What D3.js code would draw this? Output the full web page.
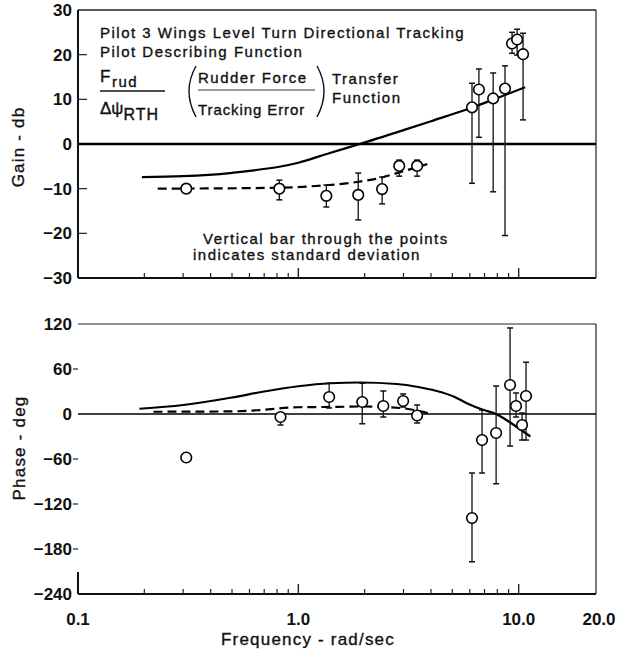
<!DOCTYPE html>
<html>
<head>
<meta charset="utf-8">
<script src="https://cdn.jsdelivr.net/npm/d3@7"></script>
<style>
  body { margin: 0; background: #fff; }
  svg { font-family: "Liberation Sans", Arial, Helvetica, sans-serif; }
  .tick-label { font-size: 17px; font-weight: bold; fill: #111; }
  .note { font-size: 15px; letter-spacing: 1.5px; fill: #111; stroke: #111; stroke-width: 0.35px; }
  .title { font-size: 17px; letter-spacing: 1.2px; fill: #111; stroke: #111; stroke-width: 0.35px; }
</style>
</head>
<body>
<div id="chart"></div>
<script>
// gain panel, measured points (rad/sec, db)
var gainFreq = [0.31, 0.82, 1.34, 1.87, 2.40, 2.87, 3.46, 6.14, 6.6, 7.66, 8.67, 9.33, 9.84, 10.47];
var gainVal  = [-10, -10, -11.6, -11.4, -10.1, -4.9, -4.9, 8.2, 12.2, 10.2, 12.4, 22.5, 23.4, 20.1];
var gainHi   = [-10, -8.1, -9.2, -6.5, -7.4, -3.6, -3.6, 13.6, 16.8, 15.9, 17.5, 25, 25.7, 24.8];
var gainLo   = [-10, -12.5, -14.1, -17.0, -13.4, -7.2, -7.2, -8.8, 1.5, -10.7, -20.5, 20.3, 19.9, 5.4];

// gain panel, model (solid) and fit (dashed)
var gainModelFreq = [0.195, 0.3, 0.49, 0.6, 0.82, 1.0, 1.39, 1.9, 3, 4, 6.1, 8, 10.7];
var gainModelVal  = [-7.4, -7.2, -6.5, -6.0, -5.1, -4.2, -2.0, 0, 3.1, 5.1, 8.1, 10.3, 12.7];
var gainFitFreq = [0.23, 0.8, 1.2, 1.85, 2.35, 2.9, 3.46, 3.85];
var gainFitVal  = [-10, -9.8, -9.4, -8.5, -7.6, -6.3, -5.2, -4.5];

// phase panel, measured points (rad/sec, deg)
var phaseFreq = [0.31, 0.83, 1.38, 1.95, 2.43, 2.99, 3.46, 6.14, 6.82, 7.9, 9.14, 9.73, 10.36, 10.8];
var phaseVal  = [-58, -4, 22.7, 16, 10.7, 17.3, -2, -138.7, -34.7, -25.3, 38.7, 10.7, -14.7, 24];
var phaseHi   = [-53, 1.3, 41, 41, 30.7, 26.7, 12, -78.7, 5.3, 37.3, 114.7, 28, 1.3, 69];
var phaseLo   = [-63, -14.7, 8, -13, -4, 9.3, -12, -197, -78.7, -93, -42.7, -4, -34.7, -34.7];

var phaseModelFreq = [0.19, 0.3, 0.5, 0.7, 1.0, 1.4, 1.9, 2.8, 3.5, 4.2, 5.1, 5.85, 7, 7.9, 9, 10, 11.3];
var phaseModelVal  = [7, 12, 22, 30, 37, 41, 42, 40, 36, 31, 23, 14, 5, 0, -10, -19, -30];
var phaseFitFreq = [0.22, 0.5, 0.65, 1.0, 1.5, 1.95, 2.9, 3.9];
var phaseFitVal  = [3, 3.5, 5, 9, 9.5, 10, 8, 1];

var xTickValues = [0.1, 1, 10, 20];
var xTickLabels = ["0.1", "1.0", "10.0", "20.0"];
var xMinorTicks = [0.2, 0.3, 0.4, 0.5, 0.6, 0.7, 0.8, 0.9, 2, 3, 4, 5, 6, 7, 8, 9];
var gainTicks = [30, 20, 10, 0, -10, -20, -30];
var phaseTicks = [120, 60, 0, -60, -120, -180, -240];

var width = 620, height = 652,
    left = 78, right = 596;

var x = d3.scaleLog().domain([0.1, 20]).range([left, 585]);
var yGain = d3.scaleLinear().domain([-30, 30]).range([278, 10]);
var yPhase = d3.scaleLinear().domain([-240, 120]).range([594, 324]);

var svg = d3.select("#chart").append("svg")
    .attr("width", width)
    .attr("height", height);

function zip(f, v) {
  return f.map(function(d, i) { return {f: d, v: v[i]}; });
}

function panel(y, ticks, opts) {
  var g = svg.append("g");
  var top = y.range()[1], bottom = y.range()[0];

  // frame
  g.append("line").attr("x1", left).attr("x2", right).attr("y1", top).attr("y2", top)
    .attr("stroke", "#222").attr("stroke-width", opts.topWidth);
  g.append("line").attr("x1", left).attr("x2", right).attr("y1", bottom).attr("y2", bottom)
    .attr("stroke", "#111").attr("stroke-width", 2);
  g.append("line").attr("x1", right).attr("x2", right).attr("y1", top).attr("y2", bottom)
    .attr("stroke", "#222").attr("stroke-width", 1.2);
  g.append("line").attr("x1", left).attr("x2", left)
    .attr("y1", opts.leftFull ? top : bottom - 22).attr("y2", bottom)
    .attr("stroke", "#111").attr("stroke-width", 2);

  // zero line
  g.append("line").attr("x1", left).attr("x2", right)
    .attr("y1", y(0)).attr("y2", y(0))
    .attr("stroke", "#000").attr("stroke-width", opts.zeroWidth);

  // y ticks and labels
  g.selectAll(".ytick").data(ticks.filter(function(d) { return d !== 0 && d !== y.domain()[0] && d !== y.domain()[1]; }))
    .enter().append("line")
      .attr("x1", left + opts.yTickIn).attr("x2", left - opts.yTickOut)
      .attr("y1", function(d) { return y(d); }).attr("y2", function(d) { return y(d); })
      .attr("stroke", "#222").attr("stroke-width", 1.2);
  g.selectAll(".ylab").data(ticks).enter().append("text")
    .attr("class", "tick-label")
    .attr("x", 72)
    .attr("y", function(d) { return y(d); })
    .attr("dy", "0.36em")
    .attr("text-anchor", "end")
    .text(function(d) { return d < 0 ? "\u2212" + Math.abs(d) : d; });

  // x ticks, pointing up from the bottom frame
  g.selectAll(".xminor").data(xMinorTicks).enter().append("line")
    .attr("x1", function(d) { return x(d); }).attr("x2", function(d) { return x(d); })
    .attr("y1", bottom).attr("y2", bottom - 5)
    .attr("stroke", "#222").attr("stroke-width", 1.2);
  g.selectAll(".xmajor").data([1, 10]).enter().append("line")
    .attr("x1", function(d) { return x(d); }).attr("x2", function(d) { return x(d); })
    .attr("y1", bottom).attr("y2", bottom - 10)
    .attr("stroke", "#222").attr("stroke-width", 1.4);

  var line = d3.line()
    .curve(d3.curveMonotoneX)
    .x(function(d) { return x(d.f); })
    .y(function(d) { return y(d.v); });

  g.append("path").datum(opts.model)
    .attr("d", line).attr("fill", "none")
    .attr("stroke", "#000").attr("stroke-width", 2.2);
  g.append("path").datum(opts.fit)
    .attr("d", line).attr("fill", "none")
    .attr("stroke", "#000").attr("stroke-width", 2.2)
    .attr("stroke-dasharray", "9,5");

  // error bars
  var pts = opts.freq.map(function(f, i) {
    return {f: f, v: opts.val[i], hi: opts.hi[i], lo: opts.lo[i]};
  });
  var bars = g.selectAll(".bar").data(pts.filter(function(d) { return d.hi !== d.lo; }))
    .enter().append("g");
  bars.append("line")
    .attr("x1", function(d) { return x(d.f); }).attr("x2", function(d) { return x(d.f); })
    .attr("y1", function(d) { return y(d.hi); }).attr("y2", function(d) { return y(d.lo); })
    .attr("stroke", "#111").attr("stroke-width", 1.3);
  ["hi", "lo"].forEach(function(k) {
    bars.append("line")
      .attr("x1", function(d) { return x(d.f) - 3; }).attr("x2", function(d) { return x(d.f) + 3; })
      .attr("y1", function(d) { return y(d[k]); }).attr("y2", function(d) { return y(d[k]); })
      .attr("stroke", "#111").attr("stroke-width", 1.5);
  });

  g.selectAll(".pt").data(pts).enter().append("circle")
    .attr("cx", function(d) { return x(d.f); })
    .attr("cy", function(d) { return y(d.v); })
    .attr("r", 5.3)
    .attr("fill", "#fff").attr("stroke", "#000").attr("stroke-width", 1.6);

  return g;
}

panel(yGain, gainTicks, {
  topWidth: 1.5, zeroWidth: 2.6, leftFull: true, yTickIn: 9, yTickOut: 0,
  model: zip(gainModelFreq, gainModelVal), fit: zip(gainFitFreq, gainFitVal),
  freq: gainFreq, val: gainVal, hi: gainHi, lo: gainLo
});

panel(yPhase, phaseTicks, {
  topWidth: 1, zeroWidth: 1.6, leftFull: false, yTickIn: 0, yTickOut: 5,
  model: zip(phaseModelFreq, phaseModelVal), fit: zip(phaseFitFreq, phaseFitVal),
  freq: phaseFreq, val: phaseVal, hi: phaseHi, lo: phaseLo
});

// x tick labels, under the phase panel
svg.selectAll(".xlab").data(xTickValues).enter().append("text")
  .attr("class", "tick-label")
  .attr("x", function(d, i) { return i === 3 ? 599 : x(d); })
  .attr("y", 625)
  .attr("text-anchor", "middle")
  .text(function(d, i) { return xTickLabels[i]; });

// axis titles
svg.append("text").attr("class", "title")
  .attr("transform", "translate(24,147) rotate(-90)")
  .attr("text-anchor", "middle")
  .text("Gain - db");
svg.append("text").attr("class", "title")
  .attr("transform", "translate(25,448) rotate(-90)")
  .attr("text-anchor", "middle")
  .text("Phase - deg");
svg.append("text").attr("class", "title")
  .attr("x", 308).attr("y", 645)
  .attr("text-anchor", "middle")
  .text("Frequency - rad/sec");

// annotation block
var ann = svg.append("g");
ann.append("text").attr("class", "note").attr("x", 100).attr("y", 38)
  .text("Pilot 3 Wings Level Turn Directional Tracking");
ann.append("text").attr("class", "note").attr("x", 100).attr("y", 57)
  .text("Pilot Describing Function");

var num = ann.append("text").attr("class", "note").attr("x", 100).attr("y", 82).style("font-size", "17px");
num.append("tspan").text("F");
num.append("tspan").attr("dy", 5).style("font-size", "15px").text("rud");
ann.append("line").attr("x1", 100).attr("x2", 165).attr("y1", 91).attr("y2", 91)
  .attr("stroke", "#111").attr("stroke-width", 1.4);
var den = ann.append("text").attr("class", "note").attr("x", 100).attr("y", 114).style("font-size", "17px");
den.append("tspan").style("letter-spacing", "0px").text("\u0394\u03c8");
den.append("tspan").attr("dy", 6).style("font-size", "16px").style("letter-spacing", "1px").text("RTH");

// big parentheses around the verbal fraction
ann.append("path")
  .attr("d", "M196,66 Q182,91 196,117")
  .attr("fill", "none").attr("stroke", "#111").attr("stroke-width", 1.4);
ann.append("path")
  .attr("d", "M317,66 Q331,91 317,117")
  .attr("fill", "none").attr("stroke", "#111").attr("stroke-width", 1.4);
ann.append("text").attr("class", "note").attr("x", 198).attr("y", 83).text("Rudder Force");
ann.append("line").attr("x1", 198).attr("x2", 315).attr("y1", 90).attr("y2", 90)
  .attr("stroke", "#333").attr("stroke-width", 1);
ann.append("text").attr("class", "note").attr("x", 198).attr("y", 115)
  .style("letter-spacing", "0.9px").text("Tracking Error");
ann.append("text").attr("class", "note").attr("x", 332).attr("y", 84).text("Transfer");
ann.append("text").attr("class", "note").attr("x", 332).attr("y", 103).text("Function");

ann.append("text").attr("class", "note").attr("x", 203).attr("y", 244)
  .text("Vertical bar through the points");
ann.append("text").attr("class", "note").attr("x", 193).attr("y", 260)
  .text("indicates standard deviation");
</script>
</body>
</html>
